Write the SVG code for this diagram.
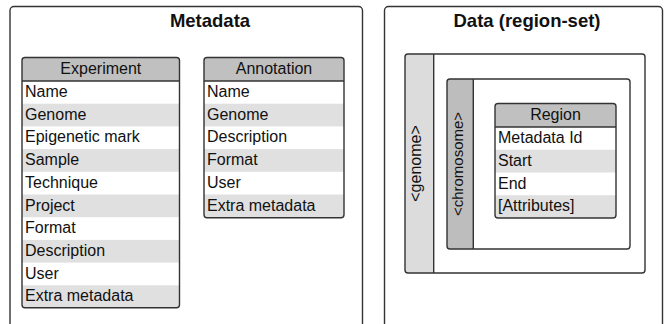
<svg xmlns="http://www.w3.org/2000/svg" width="664" height="324" viewBox="0 0 664 324">
  <style>
    .frame { fill: #ffffff; stroke: #333333; stroke-width: 1.4; }
    .line { fill: none; stroke: #333333; stroke-width: 1.4; }
    .hdr { fill: #c0c0c0; }
    .alt { fill: #e0e0e0; }
    .title { font-family: "Liberation Sans", Arial, sans-serif; font-size: 18.5px; font-weight: bold; fill: #111111; text-anchor: middle; }
    .head { font-family: "Liberation Sans", Arial, sans-serif; font-size: 16px; fill: #111111; text-anchor: middle; }
    .row { font-family: "Liberation Sans", Arial, sans-serif; font-size: 16px; fill: #111111; }
    .side { font-family: "Liberation Sans", Arial, sans-serif; font-size: 16px; fill: #111111; text-anchor: middle; }
  </style>
  <defs>
    <clipPath id="clipExp"><rect x="22" y="57.5" width="157.5" height="250.2" rx="3"/></clipPath>
    <clipPath id="clipAnn"><rect x="204" y="57.5" width="140" height="160.2" rx="3"/></clipPath>
    <clipPath id="clipReg"><rect x="495" y="103.5" width="121" height="114.5" rx="3"/></clipPath>
  </defs>
  <rect width="664" height="324" fill="#ffffff"/>

  <!-- Metadata panel -->
  <g id="metadata">
    <rect class="frame" x="10" y="6.5" width="352.5" height="340" rx="4"/>
    <text class="title" x="210" y="27">Metadata</text>
  </g>

  <!-- Experiment table -->
  <g id="experiment">
    <g clip-path="url(#clipExp)">
      <rect x="22" y="57.5" width="157.5" height="250.2" fill="#ffffff"/>
      <rect class="hdr" x="22" y="57.5" width="157.5" height="23.5"/>
      <rect class="alt" x="22" y="103.7" width="157.5" height="22.7"/>
      <rect class="alt" x="22" y="149.1" width="157.5" height="22.7"/>
      <rect class="alt" x="22" y="194.5" width="157.5" height="22.7"/>
      <rect class="alt" x="22" y="239.9" width="157.5" height="22.7"/>
      <rect class="alt" x="22" y="285.3" width="157.5" height="22.4"/>
    </g>
    <rect class="line" x="22" y="57.5" width="157.5" height="250.2" rx="3"/>
    <line class="line" x1="22" y1="81" x2="179.5" y2="81"/>
    <text class="head" x="100.8" y="74">Experiment</text>
    <text class="row" x="25" y="97">Name</text>
    <text class="row" x="25" y="119.7">Genome</text>
    <text class="row" x="25" y="142.4">Epigenetic mark</text>
    <text class="row" x="25" y="165.1">Sample</text>
    <text class="row" x="25" y="187.8">Technique</text>
    <text class="row" x="25" y="210.5">Project</text>
    <text class="row" x="25" y="233.2">Format</text>
    <text class="row" x="25" y="255.9">Description</text>
    <text class="row" x="25" y="278.6">User</text>
    <text class="row" x="25" y="301.3">Extra metadata</text>
  </g>

  <!-- Annotation table -->
  <g id="annotation">
    <g clip-path="url(#clipAnn)">
      <rect x="204" y="57.5" width="140" height="160.2" fill="#ffffff"/>
      <rect class="hdr" x="204" y="57.5" width="140" height="23.5"/>
      <rect class="alt" x="204" y="103.7" width="140" height="22.7"/>
      <rect class="alt" x="204" y="149.1" width="140" height="22.7"/>
      <rect class="alt" x="204" y="194.5" width="140" height="23.2"/>
    </g>
    <rect class="line" x="204" y="57.5" width="140" height="160.2" rx="3"/>
    <line class="line" x1="204" y1="81" x2="344" y2="81"/>
    <text class="head" x="274" y="74">Annotation</text>
    <text class="row" x="207" y="97">Name</text>
    <text class="row" x="207" y="119.7">Genome</text>
    <text class="row" x="207" y="142.4">Description</text>
    <text class="row" x="207" y="165.1">Format</text>
    <text class="row" x="207" y="187.8">User</text>
    <text class="row" x="207" y="210.5">Extra metadata</text>
  </g>

  <!-- Data panel -->
  <g id="data">
    <rect class="frame" x="384.5" y="6.5" width="278" height="340" rx="4"/>
    <text class="title" x="527" y="27">Data (region-set)</text>
  </g>

  <!-- Genome container -->
  <g id="genome">
    <rect x="405" y="54" width="28.7" height="219" fill="#dcdcdc"/>
    <rect class="line" x="405" y="54" width="240" height="219" rx="3"/>
    <line class="line" x1="433.7" y1="54" x2="433.7" y2="273"/>
    <text class="side" transform="translate(420.5 163.5) rotate(-90)">&lt;genome&gt;</text>
  </g>

  <!-- Chromosome container -->
  <g id="chromosome">
    <rect x="447" y="79" width="26.3" height="170" fill="#bdbdbd"/>
    <rect class="line" x="447" y="79" width="183" height="170" rx="3"/>
    <line class="line" x1="473.3" y1="79" x2="473.3" y2="249"/>
    <text class="side" transform="translate(463 164) rotate(-90)" style="font-size:15px">&lt;chromosome&gt;</text>
  </g>

  <!-- Region table -->
  <g id="region">
    <g clip-path="url(#clipReg)">
      <rect x="495" y="103.5" width="121" height="114.5" fill="#ffffff"/>
      <rect class="hdr" x="495" y="103.5" width="121" height="23.5"/>
      <rect class="alt" x="495" y="149.75" width="121" height="22.75"/>
      <rect class="alt" x="495" y="195.25" width="121" height="22.75"/>
    </g>
    <rect class="line" x="495" y="103.5" width="121" height="114.5" rx="3"/>
    <line class="line" x1="495" y1="127" x2="616" y2="127"/>
    <text class="head" x="555.5" y="120">Region</text>
    <text class="row" x="498" y="143">Metadata Id</text>
    <text class="row" x="498" y="165.75">Start</text>
    <text class="row" x="498" y="188.5">End</text>
    <text class="row" x="498" y="211.25">[Attributes]</text>
  </g>
</svg>
